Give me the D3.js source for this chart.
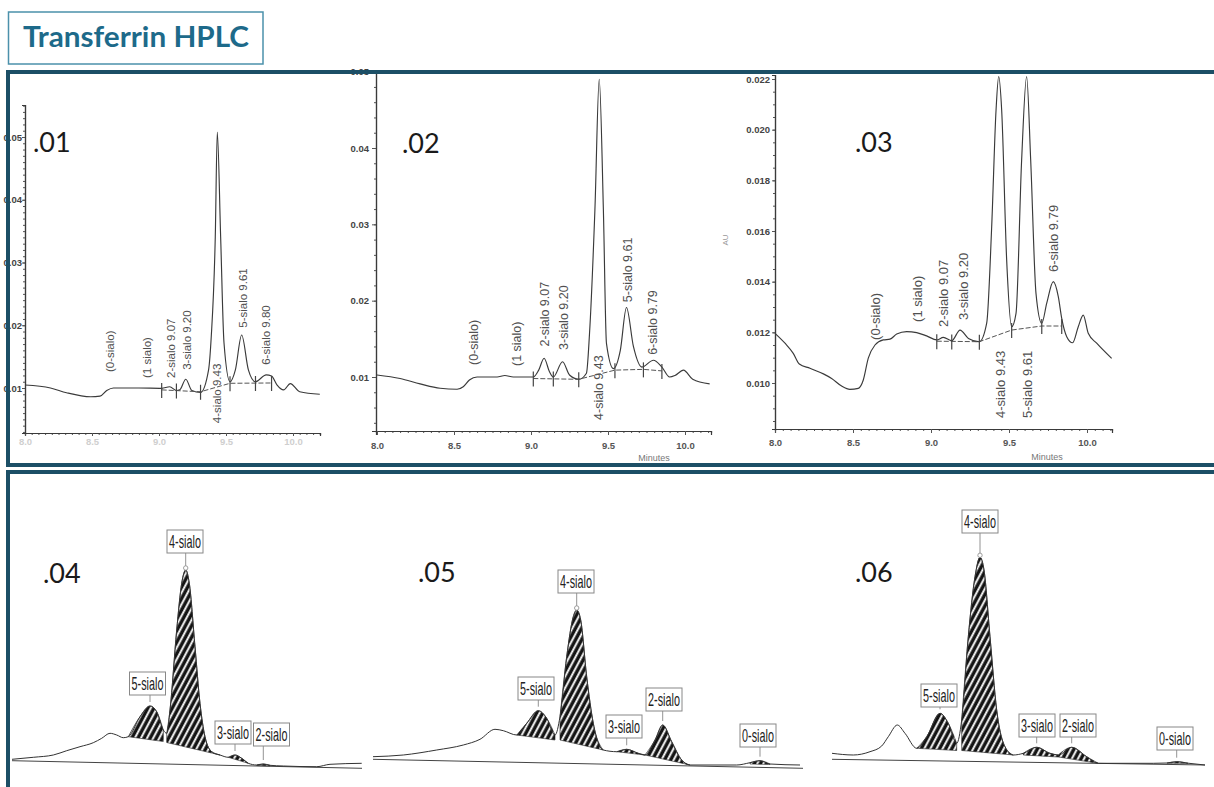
<!DOCTYPE html>
<html>
<head>
<meta charset="utf-8">
<script src="https://cdn.jsdelivr.net/npm/d3@7"></script>
<style>
  body { margin: 0; background: #fff; }
  svg { display: block; }
</style>
</head>
<body>
<div id="chart"></div>
<script>
// Transferrin HPLC - six chromatograms on one slide (D3 v7)

const W = 1214, H = 787;

// ---------- top row: time (min) vs absorbance (AU) ----------
const xTicksTop = [8.0, 8.5, 9.0, 9.5, 10.0];
const yTicks01 = [0.01, 0.02, 0.03, 0.04, 0.05];
const yTicks02 = [0.01, 0.02, 0.03, 0.04, 0.05];
const yTicks03 = [0.010, 0.012, 0.014, 0.016, 0.018, 0.020, 0.022];

const trace01 = [[8.0,0.01048],[8.19,0.0100],[8.31,0.00925],[8.49,0.0086],[8.56,0.0087],[8.61,0.0096],[8.66,0.0100],
  [8.85,0.0100],[9.02,0.00995],[9.08,0.0102],[9.13,0.0096],[9.155,0.0097],[9.20,0.0114],[9.245,0.0096],[9.31,0.0093],
  [9.37,0.0129],[9.39,0.0182],[9.42,0.0341],[9.435,0.0508],[9.46,0.0341],[9.485,0.0172],[9.53,0.0110],[9.57,0.0129],
  [9.617,0.01845],[9.667,0.0129],[9.72,0.0110],[9.80,0.0121],[9.84,0.0119],[9.88,0.0105],[9.93,0.0097],[9.98,0.0107],
  [10.05,0.0094],[10.2,0.0090]];
const base01 = [[9.02,0.0097],[9.31,0.0094],[9.53,0.01075],[9.84,0.0108]];
const cuts01 = [[9.02,0.0097],[9.13,0.0096],[9.31,0.0094],[9.53,0.01075],[9.72,0.0108],[9.84,0.0108]];
const peaks01 = [['(0-sialo)',8.635,0.01255],['(1 sialo)',8.91,0.0116],['2-sialo 9.07',9.09,0.0116],
  ['3-sialo 9.20',9.21,0.0129],['4-sialo 9.43',9.435,0.0044],['5-sialo 9.61',9.625,0.0196],['6-sialo 9.80',9.8,0.0137]];

const trace02 = [[8.0,0.01026],[8.15,0.0098],[8.28,0.0091],[8.41,0.00852],[8.52,0.00839],[8.56,0.00873],[8.60,0.0096],
  [8.65,0.0100],[8.78,0.0100],[8.83,0.0102],[8.885,0.0100],[9.015,0.0100],[9.05,0.0109],[9.085,0.01245],[9.12,0.0107],
  [9.145,0.0100],[9.205,0.0120],[9.25,0.01026],[9.31,0.0097],[9.36,0.0105],[9.38,0.0157],[9.415,0.0319],[9.443,0.0490],
  [9.47,0.0319],[9.49,0.0144],[9.535,0.0111],[9.58,0.0135],[9.62,0.0191],[9.665,0.0140],[9.72,0.0113],[9.795,0.0122],
  [9.85,0.0113],[9.90,0.0100],[9.935,0.0102],[9.99,0.0109],[10.05,0.0097],[10.16,0.0091]];
const base02 = [[9.015,0.0098],[9.31,0.0097],[9.545,0.0109],[9.73,0.0110],[9.85,0.0108]];
const cuts02 = [[9.015,0.0098],[9.145,0.0098],[9.31,0.0097],[9.545,0.0109],[9.73,0.0110],[9.85,0.0108]];
const peaks02 = [['(0-sialo)',8.625,0.01157],['(1 sialo)',8.907,0.01144],['2-sialo 9.07',9.09,0.0140],
  ['3-sialo 9.20',9.214,0.01354],['4-sialo 9.43',9.44,0.00437],['5-sialo 9.61',9.626,0.0198],['6-sialo 9.79',9.79,0.0129]];

const trace03 = [[8.0,0.01196],[8.064,0.01157],[8.117,0.01117],[8.156,0.01075],[8.224,0.01058],[8.31,0.01036],
  [8.363,0.01018],[8.427,0.00988],[8.48,0.00975],[8.534,0.00979],[8.566,0.01012],[8.598,0.01098],[8.641,0.0115],
  [8.694,0.0117],[8.737,0.01173],[8.78,0.01193],[8.844,0.01203],[8.908,0.01199],[8.972,0.01186],[9.037,0.0117],
  [9.079,0.0118],[9.133,0.01167],[9.186,0.01209],[9.24,0.01176],[9.31,0.01163],[9.357,0.01236],[9.389,0.01617],
  [9.417,0.02078],[9.434,0.0221],[9.453,0.02078],[9.485,0.01486],[9.517,0.01222],[9.545,0.01275],[9.581,0.0188],
  [9.613,0.0221],[9.639,0.0188],[9.673,0.01354],[9.71,0.01236],[9.742,0.01315],[9.784,0.0140],[9.816,0.01341],
  [9.838,0.01255],[9.87,0.01183],[9.908,0.01159],[9.944,0.01222],[9.976,0.01268],[10.008,0.01196],[10.062,0.01157],
  [10.158,0.01097]];
const base03 = [[9.037,0.01165],[9.31,0.01163],[9.517,0.01209],[9.71,0.01225],[9.838,0.01225]];
const cuts03 = [[9.037,0.01165],[9.133,0.01164],[9.31,0.01163],[9.517,0.01209],[9.71,0.01225],[9.838,0.01225]];
const peaks03 = [['(0-sialo)',8.641,0.0117],['(1 sialo)',8.91,0.01241],['2-sialo 9.07',9.077,0.01221],
  ['3-sialo 9.20',9.205,0.01249],['4-sialo 9.43',9.442,0.00862],['5-sialo 9.61',9.615,0.00862],['6-sialo 9.79',9.782,0.01438]];

// ---------- bottom row: relative time vs signal (arbitrary units) ----------
const trace04 = [[0,1.07],[2.13,1.27],[4.13,1.5],[5.47,1.93],[6.8,2.33],[8.13,2.73],[8.97,3.17],[9.8,3.67],[10.47,3.5],
  [11.13,3.23],[11.63,3.33],[12.8,5.33],[13.8,6.4],[14.47,5.83],[15.13,4.0],[15.47,3.67],[15.8,6.0],[16.47,14.0],
  [16.97,18.67],[17.37,20.0],[17.73,18.67],[18.3,12.33],[18.8,6.67],[19.3,3.33],[19.97,1.83],[20.8,1.5],[21.63,1.27],
  [22.3,1.5],[22.97,1.17],[23.63,0.67],[24.47,0.5],[25.13,0.6],[25.8,0.47],[27.13,0.4],[30.47,0.33],[31.8,0.57],[34.97,0.67]];
const base04 = [[0,0.93],[35,0.17]];
const hatch04 = [[11.63,15.13,3.33,2.85],[15.47,20.8,2.75,1.5],[21.63,23.63,1.27,0.67],[24.47,25.8,0.45,0.4]];
const labels04 = [['4-sialo',17.37,17.3,21.7],['5-sialo',13.8,13.55,7.5],['3-sialo',22.3,22.1,2.6],['2-sialo',25.13,25.95,2.4]];

const trace05 = [[0,1.33],[3.03,1.5],[6.37,2.0],[9.03,2.5],[10.7,3.07],[12.2,4.07],[13.03,3.93],[14.37,3.5],[15.37,4.67],
  [16.53,5.93],[17.37,5.17],[18.2,3.5],[18.7,5.33],[19.37,11.33],[20.03,15.33],[20.37,16.0],[20.77,15.0],[21.37,9.33],
  [22.03,4.67],[23.03,2.0],[24.37,1.83],[25.37,2.07],[26.53,1.67],[27.2,1.5],[28.2,3.0],[28.97,4.5],[29.87,2.83],
  [30.87,1.0],[31.7,0.5],[36.37,0.5],[37.7,0.73],[38.7,0.93],[39.7,0.6],[42.7,0.5]];
const base05 = [[0,1.07],[43,0.17]];
const hatch05 = [[14.37,18.2,3.5,3.0],[18.7,23.03,3.0,2.0],[24.37,27.2,1.83,1.5],[27.2,31.7,1.5,0.5],[37.7,39.7,0.6,0.55]];
const labels05 = [['5-sialo',16.53,16.3,7.0],['4-sialo',20.37,20.3,17.7],['3-sialo',25.37,25.1,3.2],
  ['2-sialo',28.97,29.1,5.9],['0-sialo',38.7,38.5,2.3]];

const trace06 = [[0,1.67],[2.13,1.5],[3.8,1.83],[4.97,2.4],[5.63,3.33],[6.53,4.5],[7.3,3.67],[8.47,2.17],[9.47,3.33],
  [10.8,5.67],[11.63,4.67],[12.47,2.67],[12.97,5.0],[13.63,13.33],[14.3,19.33],[14.8,21.27],[15.2,20.0],[15.8,13.33],
  [16.47,6.0],[17.3,2.33],[18.13,1.5],[19.13,1.67],[20.47,2.27],[21.8,1.67],[22.63,1.5],[23.97,2.27],[25.47,1.33],
  [26.63,0.67],[32.13,0.67],[33.5,0.7],[34.47,0.83],[35.6,0.68],[37.3,0.5]];
const base06 = [[0,1.07],[37.3,0.5]];
const hatch06 = [[8.47,12.47,2.17,1.95],[12.97,18.13,1.95,1.5],[19.13,22.63,1.5,1.3],[22.63,26.63,1.3,0.67],[33.5,35.6,0.68,0.66]];
const labels06 = [['4-sialo',14.8,14.8,23.7],['5-sialo',10.8,10.7,6.3],['3-sialo',20.47,20.5,3.3],
  ['2-sialo',23.97,24.6,3.3],['0-sialo',34.47,34.3,2.0]];

// ---------- layout ----------
const topPanels = [
  {tag: '.01', tagAt: [33, 152], trace: trace01, base: base01, cuts: cuts01, peaks: peaks01, yTicks: yTicks01, fmt: '.2f',
   xCal: [25, 293], xPx: [25, 320], yCal: [0.01, 0.05], yCalPx: [388, 137], yPx: [433, 105],
   font: 11.5, xLab: '#cfcfcf', xPad: [3, 2], yPad: [3, 0], minor: 0.001, minutes: null},
  {tag: '.02', tagAt: [402, 153], trace: trace02, base: base02, cuts: cuts02, peaks: peaks02, yTicks: yTicks02, fmt: '.2f',
   xCal: [377, 685], xPx: [376, 711], yCal: [0.01, 0.04], yCalPx: [377, 148], yPx: [431, 70],
   font: 12.5, xLab: '#555', xPad: [4, 7], yPad: [4, 3], minor: 0.002, minutes: [654, 461]},
  {tag: '.03', tagAt: [855, 152], trace: trace03, base: base03, cuts: cuts03, peaks: peaks03, yTicks: yTicks03, fmt: '.3f',
   xCal: [775, 1087], xPx: [775, 1112], yCal: [0.010, 0.022], yCalPx: [383, 79], yPx: [429, 75],
   font: 13, xLab: '#555', xPad: [4, 6], yPad: [3, 2], minor: 0.0005, minutes: [1047, 460]}
];

const bottomPanels = [
  {tag: '.04', tagAt: [43, 583], trace: trace04, base: base04, hatch: hatch04, labels: labels04, x0: 12, tMax: 35},
  {tag: '.05', tagAt: [418, 582], trace: trace05, base: base05, hatch: hatch05, labels: labels05, x0: 373, tMax: 43},
  {tag: '.06', tagAt: [855, 582], trace: trace06, base: base06, hatch: hatch06, labels: labels06, x0: 832, tMax: 37.3}
];

const svg = d3.select('#chart').append('svg')
  .attr('width', W)
  .attr('height', H);

const defs = svg.append('defs');
const pat = defs.append('pattern')
  .attr('id', 'hatch')
  .attr('patternUnits', 'userSpaceOnUse')
  .attr('width', 5.4).attr('height', 5.4)
  .attr('patternTransform', 'rotate(28)');
pat.append('rect').attr('width', 5.4).attr('height', 5.4).attr('fill', '#141414');
pat.append('line').attr('x1', 1.2).attr('y1', 0).attr('x2', 1.2).attr('y2', 5.4)
  .attr('stroke', '#fff').attr('stroke-width', 1.9);

const FONT = 'Liberation Sans, Arial, Helvetica, sans-serif';

function styleAxis(sel, labelColor, size) {
  sel.attr('font-family', FONT).attr('font-size', size);
  sel.select('.domain').attr('stroke', '#3a3a3a').attr('stroke-width', 1.2);
  sel.selectAll('.tick line').attr('stroke', '#555');
  sel.selectAll('.tick text').attr('fill', labelColor).attr('font-weight', 'bold');
}

function drawTop(p) {
  const g = svg.append('g');
  const xc = d3.scaleLinear().domain([8, 10]).range(p.xCal);
  const x = d3.scaleLinear().domain(p.xPx.map(xc.invert)).range(p.xPx);
  const yc = d3.scaleLinear().domain(p.yCal).range(p.yCalPx);
  const y = d3.scaleLinear().domain(p.yPx.map(yc.invert)).range(p.yPx);

  const x1 = x.domain()[1];
  const [y0, y1] = y.domain();

  // minor ticks
  g.append('g')
    .attr('transform', `translate(0,${p.yPx[0]})`)
    .call(d3.axisBottom(x).tickValues(d3.range(8, x1, 0.05)).tickSize(2).tickFormat(''))
    .call(s => styleAxis(s, '#555', 9));
  g.append('g')
    .attr('transform', `translate(${p.xPx[0]},0)`)
    .call(d3.axisLeft(y).tickValues(d3.range(Math.ceil(y0 / p.minor) * p.minor, y1, p.minor)).tickSize(2).tickFormat(''))
    .call(s => styleAxis(s, '#555', 9));

  // major ticks
  g.append('g')
    .attr('transform', `translate(0,${p.yPx[0]})`)
    .call(d3.axisBottom(x).tickValues(xTicksTop).tickSize(p.xPad[0]).tickPadding(p.xPad[1]).tickFormat(d3.format('.1f')))
    .call(s => styleAxis(s, p.xLab, 9.5));
  g.append('g')
    .attr('transform', `translate(${p.xPx[0]},0)`)
    .call(d3.axisLeft(y).tickValues(p.yTicks).tickSize(p.yPad[0]).tickPadding(p.yPad[1]).tickFormat(d3.format(p.fmt)))
    .call(s => styleAxis(s, '#444', 9.5));

  if (p.minutes) {
    g.append('text')
      .attr('x', p.minutes[0]).attr('y', p.minutes[1])
      .attr('text-anchor', 'middle')
      .attr('font-family', FONT).attr('font-size', 9).attr('fill', '#777')
      .text('Minutes');
  }

  const line = d3.line().x(d => x(d[0])).y(d => y(d[1])).curve(d3.curveMonotoneX);

  g.append('path')
    .datum(p.trace)
    .attr('d', line)
    .attr('fill', 'none')
    .attr('stroke', '#3a3a3a')
    .attr('stroke-width', 1.15);

  // integration baseline and drop marks
  g.append('path')
    .datum(p.base)
    .attr('d', d3.line().x(d => x(d[0])).y(d => y(d[1])))
    .attr('fill', 'none')
    .attr('stroke', '#555')
    .attr('stroke-width', 1)
    .attr('stroke-dasharray', '5,2');

  g.selectAll('.cut')
    .data(p.cuts)
    .enter()
    .append('line')
    .attr('x1', d => x(d[0])).attr('x2', d => x(d[0]))
    .attr('y1', d => y(d[1]) - 7).attr('y2', d => y(d[1]) + 8)
    .attr('stroke', '#444')
    .attr('stroke-width', 1.2);

  // rotated peak names
  g.selectAll('.pk')
    .data(p.peaks)
    .enter()
    .append('text')
    .attr('transform', d => `translate(${x(d[1]) + p.font * 0.36},${y(d[2])}) rotate(-90)`)
    .attr('font-family', FONT)
    .attr('font-size', p.font)
    .attr('fill', '#505050')
    .text(d => d[0]);

  g.append('text')
    .attr('x', p.tagAt[0]).attr('y', p.tagAt[1])
    .attr('font-family', 'Lato, "Open Sans", sans-serif')
    .attr('font-size', 27)
    .attr('fill', '#1a1a1a')
    .text(p.tag);
}

function drawBottom(p) {
  const g = svg.append('g');
  const x = d3.scaleLinear().domain([0, p.tMax]).range([p.x0, p.x0 + 10 * p.tMax]);
  const y = d3.scaleLinear().domain([0, 20]).range([770, 570]);

  // hatched peak areas, each closed by a straight drop baseline
  p.hatch.forEach(h => {
    const seg = p.trace.filter(d => d[0] >= h[0] && d[0] <= h[1]);
    const chord = d3.scaleLinear().domain([h[0], h[1]]).range([h[2], h[3]]);
    const area = d3.area()
      .x(d => x(d[0]))
      .y0(d => y(chord(d[0])))
      .y1(d => y(d[1]))
      .curve(d3.curveMonotoneX);
    g.append('path')
      .datum(seg)
      .attr('d', area)
      .attr('fill', 'url(#hatch)')
      .attr('stroke', '#222')
      .attr('stroke-width', 0.6);
  });

  g.append('path')
    .datum(p.base)
    .attr('d', d3.line().x(d => x(d[0])).y(d => y(d[1])))
    .attr('fill', 'none')
    .attr('stroke', '#444')
    .attr('stroke-width', 1);

  g.append('path')
    .datum(p.trace)
    .attr('d', d3.line().x(d => x(d[0])).y(d => y(d[1])).curve(d3.curveMonotoneX))
    .attr('fill', 'none')
    .attr('stroke', '#333')
    .attr('stroke-width', 1);

  const peakVal = t => (p.trace.find(d => d[0] === t) || [t, 0])[1];

  const lab = g.selectAll('.lab')
    .data(p.labels)
    .enter()
    .append('g');

  lab.append('line')
    .attr('x1', d => x(d[1])).attr('x2', d => x(d[1]))
    .attr('y1', d => y(d[3]))
    .attr('y2', d => y(peakVal(d[1])) - 4)
    .attr('stroke', '#777')
    .attr('stroke-width', 0.8);

  lab.filter(d => d[0] === '4-sialo')
    .append('circle')
    .attr('cx', d => x(d[1]))
    .attr('cy', d => y(peakVal(d[1])) - 2)
    .attr('r', 2.2)
    .attr('fill', '#fff')
    .attr('stroke', '#888')
    .attr('stroke-width', 0.8);

  lab.append('rect')
    .attr('x', d => x(d[2]) - 18)
    .attr('y', d => y(d[3]) - 23)
    .attr('width', 36)
    .attr('height', 23)
    .attr('fill', '#fff')
    .attr('stroke', '#888')
    .attr('stroke-width', 1);

  // tall, condensed label text squeezed horizontally
  lab.append('text')
    .attr('transform', d => `translate(${x(d[2])},${y(d[3]) - 5}) scale(0.6,1)`)
    .attr('text-anchor', 'middle')
    .attr('font-family', FONT)
    .attr('font-size', 18)
    .attr('fill', '#222')
    .text(d => d[0]);

  g.append('text')
    .attr('x', p.tagAt[0]).attr('y', p.tagAt[1])
    .attr('font-family', 'Lato, "Open Sans", sans-serif')
    .attr('font-size', 27)
    .attr('fill', '#1a1a1a')
    .text(p.tag);
}

topPanels.forEach(drawTop);
bottomPanels.forEach(drawBottom);

// faint y-axis unit on the third chart
svg.append('text')
  .attr('transform', 'translate(728,240) rotate(-90)')
  .attr('text-anchor', 'middle')
  .attr('font-family', FONT)
  .attr('font-size', 8)
  .attr('fill', '#999')
  .text('AU');

// title box
svg.append('rect')
  .attr('x', 8.5).attr('y', 12)
  .attr('width', 254.5).attr('height', 52)
  .attr('fill', 'none')
  .attr('stroke', '#4b91ab')
  .attr('stroke-width', 1.5);
svg.append('text')
  .attr('x', 23).attr('y', 47)
  .attr('font-family', 'Lato, "Open Sans", sans-serif')
  .attr('font-weight', 'bold')
  .attr('font-size', 29)
  .attr('textLength', 226)
  .attr('lengthAdjust', 'spacingAndGlyphs')
  .attr('fill', '#1d6a8a')
  .text('Transferrin HPLC');

// dark frames round the two rows
svg.append('rect')
  .attr('x', 8).attr('y', 72)
  .attr('width', W + 20).attr('height', 393)
  .attr('fill', 'none')
  .attr('stroke', '#1c4f66')
  .attr('stroke-width', 4);
svg.append('rect')
  .attr('x', 8).attr('y', 472)
  .attr('width', W + 20).attr('height', H)
  .attr('fill', 'none')
  .attr('stroke', '#1c4f66')
  .attr('stroke-width', 4);
</script>
</body>
</html>
